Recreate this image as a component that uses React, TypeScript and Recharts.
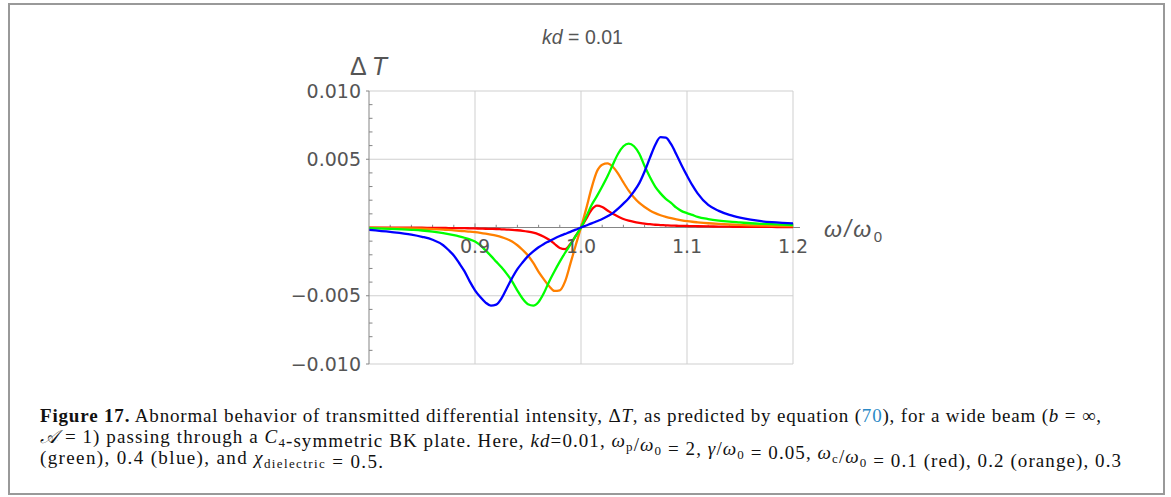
import React from 'react';
import { LineChart, Line, XAxis, YAxis, ReferenceLine, ReferenceDot } from 'recharts';

// ω/ω0 sample points
const omega = [
  0.80, 0.82, 0.84, 0.85, 0.86, 0.87,
  0.875, 0.88, 0.885, 0.89, 0.895, 0.90, 0.905, 0.91, 0.915, 0.92,
  0.925, 0.93, 0.935, 0.94, 0.945, 0.95, 0.955, 0.96, 0.965, 0.97,
  0.975, 0.98, 0.985, 0.99, 0.995, 1.00, 1.005, 1.01, 1.015, 1.02,
  1.025, 1.03, 1.035, 1.04, 1.045, 1.05, 1.055, 1.06, 1.065, 1.07,
  1.075, 1.08, 1.085, 1.09, 1.095, 1.10, 1.105,
  1.11, 1.12, 1.13, 1.14, 1.15, 1.16, 1.17, 1.18, 1.19, 1.20,
];

// ΔT values in units of 10^-3, one array per ω_c/ω0
const UNIT = 1e-3;

const dTRed = [
  -0.01, -0.01, -0.02, -0.02, -0.03, -0.03,
  -0.04, -0.04, -0.05, -0.05, -0.06, -0.07, -0.08, -0.09, -0.10, -0.11,
  -0.13, -0.15, -0.17, -0.20, -0.24, -0.30, -0.38, -0.50, -0.68, -0.90,
  -1.20, -1.50, -1.58, -1.20, -0.62, 0, 0.65, 1.30, 1.60, 1.50,
  1.25, 1.00, 0.80, 0.62, 0.50, 0.41, 0.34, 0.28, 0.24, 0.20,
  0.18, 0.16, 0.14, 0.13, 0.12, 0.11, 0.10,
  0.09, 0.08, 0.07, 0.06, 0.05, 0.05, 0.04, 0.04, 0.03, 0.03,
];

const dTOrange = [
  -0.02, -0.04, -0.07, -0.09, -0.12, -0.16,
  -0.18, -0.21, -0.24, -0.27, -0.30, -0.34, -0.39, -0.45, -0.52, -0.60,
  -0.70, -0.84, -1.02, -1.30, -1.65, -2.05, -2.60, -3.25, -3.80, -4.30,
  -4.65, -4.60, -3.95, -2.65, -1.30, 0, 1.40, 2.90, 4.10, 4.60,
  4.70, 4.45, 3.95, 3.30, 2.70, 2.20, 1.80, 1.50, 1.25, 1.05,
  0.90, 0.78, 0.68, 0.60, 0.53, 0.47, 0.42,
  0.38, 0.31, 0.26, 0.22, 0.19, 0.16, 0.14, 0.12, 0.11, 0.10,
];

const dTGreen = [
  -0.05, -0.10, -0.17, -0.22, -0.30, -0.41,
  -0.48, -0.56, -0.65, -0.75, -0.87, -1.02, -1.30, -1.68, -2.08, -2.50,
  -2.92, -3.40, -3.95, -4.62, -5.22, -5.62, -5.72, -5.45, -4.80, -3.95,
  -3.20, -2.50, -1.85, -1.25, -0.62, 0, 0.80, 1.65, 2.30, 3.00,
  3.75, 4.60, 5.40, 5.95, 6.15, 5.95, 5.40, 4.50, 3.70, 3.00,
  2.50, 2.10, 1.80, 1.45, 1.20, 1.05, 0.92,
  0.78, 0.62, 0.51, 0.43, 0.37, 0.31, 0.27, 0.24, 0.21, 0.18,
];

const dTBlue = [
  -0.17, -0.32, -0.52, -0.68, -0.90, -1.30,
  -1.65, -2.05, -2.60, -3.20, -3.95, -4.60, -5.10, -5.50, -5.72, -5.65,
  -5.20, -4.45, -3.70, -3.05, -2.55, -2.10, -1.75, -1.45, -1.20, -1.00,
  -0.80, -0.62, -0.47, -0.32, -0.16, 0, 0.15, 0.30, 0.46, 0.62,
  0.82, 1.05, 1.38, 1.75, 2.15, 2.65, 3.25, 4.10, 5.10, 6.05,
  6.62, 6.58, 6.10, 5.35, 4.55, 3.80, 3.10,
  2.50, 1.65, 1.22, 0.92, 0.72, 0.57, 0.46, 0.39, 0.34, 0.30,
];

const xTicks = [0.9, 1.0, 1.1, 1.2];
const xTickLabels = ['0.9', '1.0', '1.1', '1.2'];
const xMinorTicks = [0.82, 0.84, 0.86, 0.88, 0.92, 0.94, 0.96, 0.98, 1.02, 1.04, 1.06, 1.08, 1.12, 1.14, 1.16, 1.18];
const yTicks = [-0.01, -0.005, 0.005, 0.01];
const yMinorTicks = [
  -0.009, -0.008, -0.007, -0.006, -0.004, -0.003, -0.002, -0.001,
  0.001, 0.002, 0.003, 0.004, 0.006, 0.007, 0.008, 0.009,
];

const series = [
  { key: 'red', values: dTRed, color: '#ff0000' },
  { key: 'orange', values: dTOrange, color: '#ff8000' },
  { key: 'green', values: dTGreen, color: '#00ff00' },
  { key: 'blue', values: dTBlue, color: '#0000ff' },
];

const rows = omega.map((w, i) => {
  const row: Record<string, number> = { w };
  series.forEach((s) => {
    row[s.key] = s.values[i] * UNIT;
  });
  return row;
});

const formatY = (v: number) => (v < 0 ? '\u2212' + Math.abs(v).toFixed(3) : v.toFixed(3));

const AXIS_GRAY = '#858585';
const GRID_GRAY = '#cfcfcf';
const LABEL_GRAY = '#555555';
const TICK_FONT = { fill: LABEL_GRAY, fontSize: 19, fontFamily: 'DejaVu Sans' };

const Sub = ({ children }: { children: React.ReactNode }) => (
  <>
    <tspan fontSize={13} dy={4}>{children}</tspan>
    <tspan dy={-4}>{''}</tspan>
  </>
);

export default function App() {
  return (
    <div style={{ position: 'absolute', left: 0, top: 0, width: 1171, height: 497, background: '#fff' }}>
      <div style={{ position: 'absolute', left: 0, top: 0 }}>
        <LineChart
          width={1171}
          height={497}
          data={rows}
          margin={{ top: 91, right: 378, bottom: 133, left: 289 }}
        >
          <XAxis type="number" dataKey="w" domain={[0.8, 1.2]} hide allowDataOverflow />
          <YAxis
            type="number"
            domain={[-0.01, 0.01]}
            ticks={yTicks}
            interval={0}
            width={80}
            allowDataOverflow
            tickFormatter={formatY}
            tick={TICK_FONT}
            tickSize={3}
            tickMargin={5}
            axisLine={{ stroke: AXIS_GRAY, strokeWidth: 1 }}
            tickLine={{ stroke: AXIS_GRAY }}
          />
          {xTicks.map((v) => (
            <ReferenceLine key={'gx' + v} x={v} stroke={GRID_GRAY} strokeWidth={1} ifOverflow="visible" />
          ))}
          {yTicks.map((v) => (
            <ReferenceLine key={'gy' + v} y={v} stroke={GRID_GRAY} strokeWidth={1} ifOverflow="visible" />
          ))}
          {yMinorTicks.map((v) => (
            <ReferenceLine
              key={'my' + v}
              segment={[{ x: 0.8, y: v }, { x: 0.8033, y: v }]}
              stroke={AXIS_GRAY}
              strokeWidth={1}
            />
          ))}
          {xMinorTicks.map((v) => (
            <ReferenceLine
              key={'mx' + v}
              segment={[{ x: v, y: 0 }, { x: v, y: 0.0002 }]}
              stroke={AXIS_GRAY}
              strokeWidth={1}
            />
          ))}
          {xTicks.map((v) => (
            <ReferenceLine
              key={'tx' + v}
              segment={[{ x: v, y: 0 }, { x: v, y: 0.0003 }]}
              stroke={AXIS_GRAY}
              strokeWidth={1}
            />
          ))}
          <ReferenceLine
            segment={[{ x: 0.8, y: 0 }, { x: 1.2066, y: 0 }]}
            stroke={AXIS_GRAY}
            strokeWidth={1.2}
            ifOverflow="visible"
          />
          {xTicks.map((v, i) => (
            <ReferenceDot
              key={'lx' + v}
              x={v}
              y={0}
              r={0}
              fill="none"
              stroke="none"
              ifOverflow="visible"
              label={{ value: xTickLabels[i], position: 'bottom', offset: 12, ...TICK_FONT }}
            />
          ))}
          {series.map((s) => (
            <Line
              key={s.key}
              type="monotone"
              dataKey={s.key}
              stroke={s.color}
              strokeWidth={2.3}
              dot={false}
              activeDot={false}
              isAnimationActive={false}
            />
          ))}
        </LineChart>
      </div>
      <svg
        width={1171}
        height={497}
        style={{ position: 'absolute', left: 0, top: 0, pointerEvents: 'none' }}
      >
        <rect x={9} y={4} width={1155} height={490} fill="none" stroke="#999999" strokeWidth={2} />
        <text x={582.5} y={44} textAnchor="middle" fill={LABEL_GRAY} fontSize={19.5} fontFamily="Liberation Sans">
          <tspan fontStyle="italic">kd</tspan> = 0.01
        </text>
        <text x={350} y={75} fill={LABEL_GRAY} fontSize={25} fontFamily="Liberation Sans" textLength={37} lengthAdjust="spacing">
          Δ<tspan fontStyle="italic">T</tspan>
        </text>
        <text x={824} y={237} fill={LABEL_GRAY} fontSize={23} fontFamily="Liberation Sans" textLength={58} lengthAdjust="spacing">
          <tspan fontStyle="italic">ω/ω</tspan>
          <tspan fontSize={15} dy={5}>0</tspan>
        </text>
        <g fill="#111111" fontFamily="Liberation Serif" fontSize={19}>
          <text x={40} y={422} textLength={1061} lengthAdjust="spacing">
            <tspan fontWeight="bold">Figure 17.</tspan>
            {' Abnormal behavior of transmitted differential intensity, Δ'}
            <tspan fontStyle="italic">T</tspan>
            {', as predicted by equation ('}
            <tspan fill="#2b8ac6">70</tspan>
            {'), for a wide beam ('}
            <tspan fontStyle="italic">b</tspan>
            {' = ∞,'}
          </text>
          <text x={40} y={443} textLength={1081} lengthAdjust="spacing">
            <tspan fontStyle="italic">𝒜</tspan>
            {' = 1) passing through a '}
            <tspan fontStyle="italic">C</tspan>
            <Sub>4</Sub>
            {'-symmetric BK plate. Here, '}
            <tspan fontStyle="italic">kd</tspan>
            {'=0.01, '}
            <tspan fontStyle="italic">ω</tspan>
            <Sub>p</Sub>
            {'/'}
            <tspan fontStyle="italic">ω</tspan>
            <Sub>0</Sub>
            {' = 2, '}
            <tspan fontStyle="italic">γ</tspan>
            {'/'}
            <tspan fontStyle="italic">ω</tspan>
            <Sub>0</Sub>
            {' = 0.05, '}
            <tspan fontStyle="italic">ω</tspan>
            <Sub>c</Sub>
            {'/'}
            <tspan fontStyle="italic">ω</tspan>
            <Sub>0</Sub>
            {' = 0.1 (red), 0.2 (orange), 0.3'}
          </text>
          <text x={40} y={464} textLength={343} lengthAdjust="spacing">
            {'(green), 0.4 (blue), and '}
            <tspan fontStyle="italic">χ</tspan>
            <Sub>dielectric</Sub>
            {' = 0.5.'}
          </text>
        </g>
      </svg>
    </div>
  );
}
